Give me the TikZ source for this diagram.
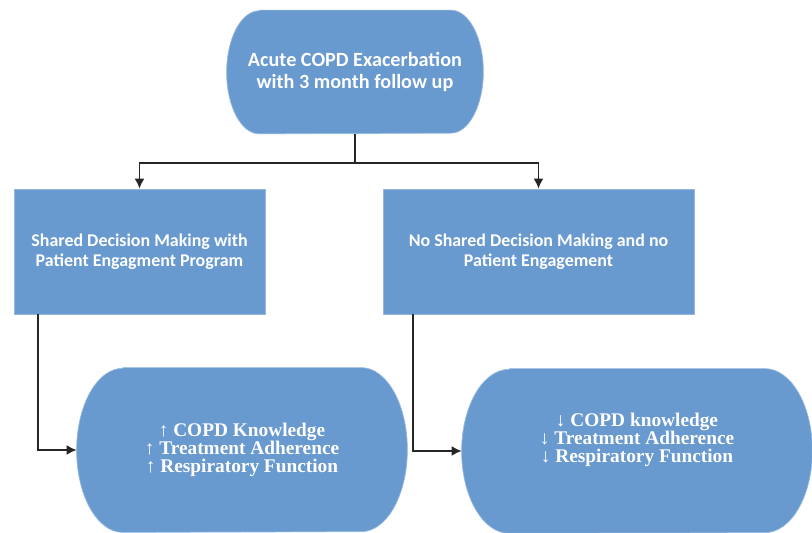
\documentclass[tikz,border=0pt]{standalone}
\usepackage{fontspec}
\setmainfont{Carlito}
\newfontfamily\resultfont{Liberation Serif}
\usetikzlibrary{arrows.meta, backgrounds}
\definecolor{boxblue}{RGB}{104,153,207}
\definecolor{boxedge}{RGB}{150,185,226}

% stadium with half-ellipse ends behind node #1 (x radius #2, y radius #3)
\newcommand\capshape[3]{%
    \path[draw=boxedge, line width=0.4pt, fill=boxblue]
        ([xshift=#2]#1.north west) -- ([xshift=-#2]#1.north east)
        arc[start angle=90, end angle=-90, x radius=#2, y radius=#3]
        -- ([xshift=#2]#1.south west)
        arc[start angle=270, end angle=90, x radius=#2, y radius=#3] -- cycle;}

\begin{document}
\begin{tikzpicture}[
    stagebox/.style={draw=boxedge, line width=0.4pt, fill=boxblue, text=white, align=center, inner sep=0pt},
    capbox/.style={text=white, align=center, inner sep=0pt},
    resulttext/.style={text=white, align=center, inner sep=0pt,
                       font=\resultfont\bfseries\fontsize{11}{10.4}\selectfont},
    link/.style={-{Latex[length=2mm,width=2mm]}, line width=1pt, draw=black!85}
]
    \useasboundingbox (0,0) rectangle (16.24,-10.66);

    % Exacerbation event
    \node[capbox, minimum width=5.12cm, minimum height=2.46cm,
          font=\bfseries\fontsize{11.5}{12.5}\selectfont]
        (event) at (7.10,-1.44) {Acute COPD Exacerbation\\with 3 month follow up};

    % The two arms
    \node[stagebox, minimum width=5.02cm, minimum height=2.5cm,
          font=\bfseries\fontsize{10.2}{11.3}\selectfont]
        (shared) at (2.79,-5.03) {Shared Decision Making with\\Patient Engagment Program};
    \node[stagebox, minimum width=6.22cm, minimum height=2.5cm,
          font=\bfseries\fontsize{10.2}{11.3}\selectfont]
        (noshared) at (10.77,-5.03) {No Shared Decision Making and no\\Patient Engagement};

    % Outcomes
    \node[capbox, minimum width=6.6cm, minimum height=3.28cm,
          label={[resulttext]center:{↑ COPD Knowledge\\↑ Treatment Adherence\\↑ Respiratory Function}}]
        (better) at (4.84,-9.0) {};
    \node[capbox, minimum width=7.0cm, minimum height=3.28cm,
          label={[resulttext, yshift=0.22cm]center:{↓ COPD knowledge\\↓ Treatment Adherence\\↓ Respiratory Function}}]
        (worse) at (12.74,-9.02) {};

    % Rounded shapes behind the text
    \begin{scope}[on background layer]
        \capshape{event}{0.65cm}{1.23cm}
        \capshape{better}{0.92cm}{1.64cm}
        \capshape{worse}{0.95cm}{1.64cm}
    \end{scope}

    % Arrows
    \draw[link] (event.south) -- ++(0,-0.58) -| (shared.north);
    \draw[link] (event.south) -- ++(0,-0.58) -| (noshared.north);
    \draw[link] ([xshift=0.48cm]shared.south west) |- (better.west);
    \draw[link] ([xshift=0.6cm]noshared.south west) |- (worse.west);
\end{tikzpicture}
\end{document}
